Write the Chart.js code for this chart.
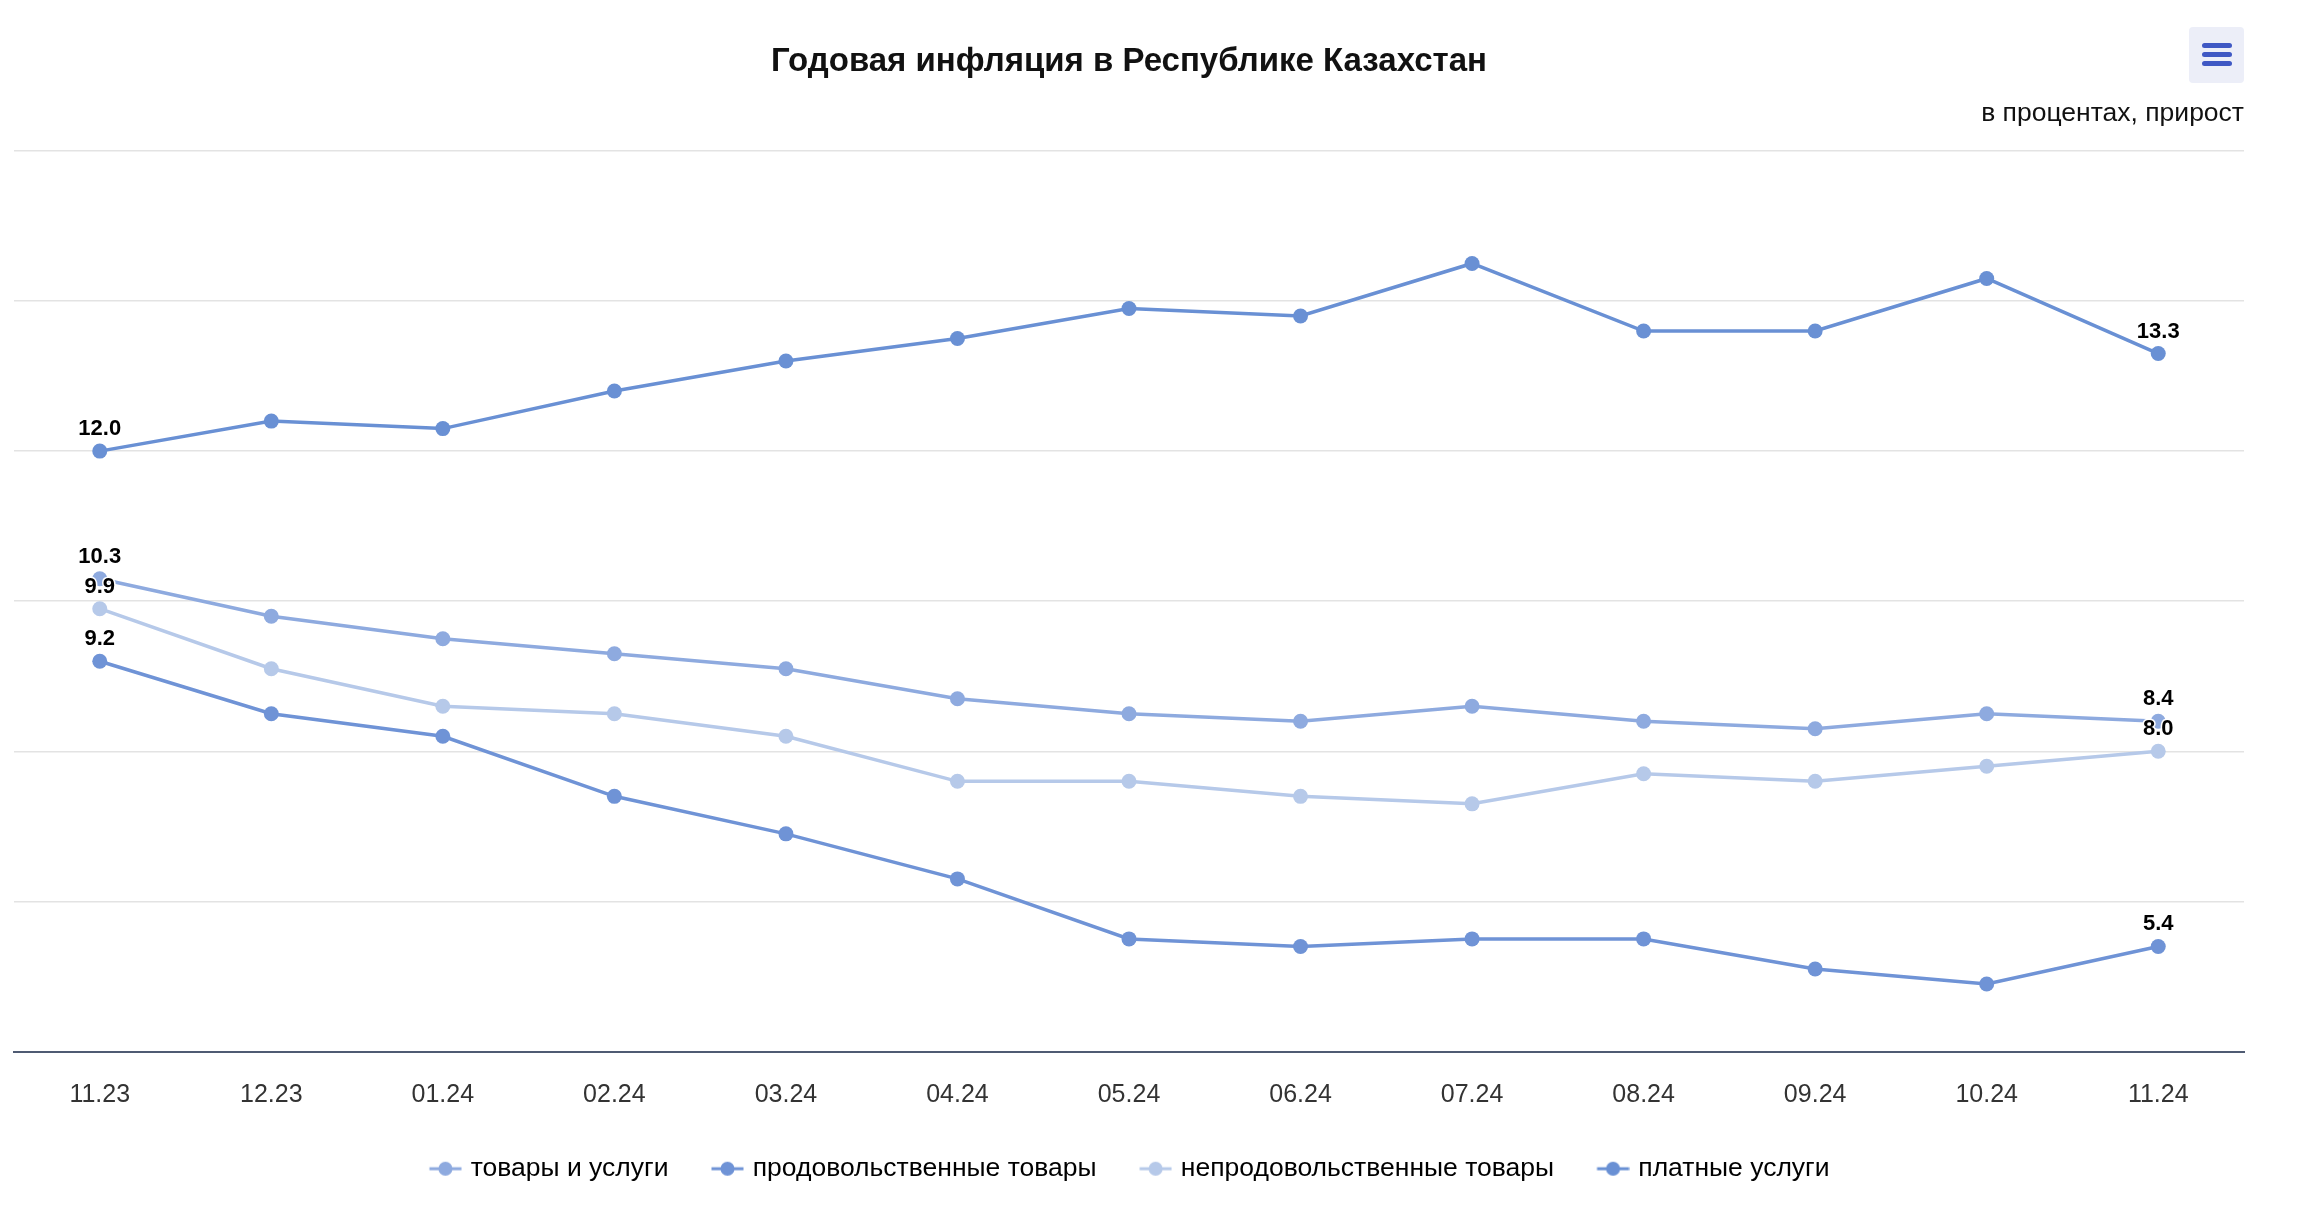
<!DOCTYPE html>
<html>
<head>
<meta charset="utf-8">
<script src="https://cdn.jsdelivr.net/npm/chart.js@4"></script>
<style>
  html,body{margin:0;padding:0;background:#fff;}
  #wrap{position:relative;width:2316px;height:1210px;}
  #menu{position:absolute;left:2189px;top:27px;width:55px;height:56px;background:#eceef8;border-radius:4px;}
  #menu span{position:absolute;left:13px;width:30px;height:5px;border-radius:3px;background:#3f58c4;}
</style>
</head>
<body>
<div id="wrap">
  <canvas id="chart" width="2316" height="1210"></canvas>
  <div id="menu"><span style="top:16px"></span><span style="top:25px"></span><span style="top:34px"></span></div>
</div>
<script>
// data
const months = ['11.23','12.23','01.24','02.24','03.24','04.24','05.24','06.24','07.24','08.24','09.24','10.24','11.24'];
const total    = [10.3, 9.8, 9.5, 9.3, 9.1, 8.7, 8.5, 8.4, 8.6, 8.4, 8.3, 8.5, 8.4];
const food     = [9.2, 8.5, 8.2, 7.4, 6.9, 6.3, 5.5, 5.4, 5.5, 5.5, 5.1, 4.9, 5.4];
const nonfood  = [9.9, 9.1, 8.6, 8.5, 8.2, 7.6, 7.6, 7.4, 7.3, 7.7, 7.6, 7.8, 8.0];
const services = [12.0, 12.4, 12.3, 12.8, 13.2, 13.5, 13.9, 13.8, 14.5, 13.6, 13.6, 14.3, 13.3];
const seriesNames = ['товары и услуги','продовольственные товары','непродовольственные товары','платные услуги'];
const colors = ['#8eaadf','#6f93d6','#b6c9e9','#6990d4'];

const FONT = "'Liberation Sans', Arial, sans-serif";

// legend symbol: line with a dot, blank left part works as gap between items
function legendIcon(color){
  const c = document.createElement('canvas');
  c.width = 64; c.height = 16;
  const g = c.getContext('2d');
  g.strokeStyle = color; g.lineWidth = 3;
  g.beginPath(); g.moveTo(31.5,8); g.lineTo(63.5,8); g.stroke();
  g.fillStyle = color;
  g.beginPath(); g.arc(47.5,8,7,0,Math.PI*2); g.fill();
  return c;
}

// labels on first and last points
const endLabels = {
  id:'endLabels',
  afterUpdate(chart){
    // compensate the blank part of the legend icons so the row stays centred
    if(chart.legend){ chart.legend.left -= 13; chart.legend.right -= 13; }
  },
  afterDatasetsDraw(chart){
    const ctx = chart.ctx;
    ctx.save();
    ctx.font = 'bold 22px ' + FONT;
    ctx.textAlign = 'center';
    ctx.textBaseline = 'middle';
    ctx.lineJoin = 'round';
    chart.data.datasets.forEach((ds,i)=>{
      const meta = chart.getDatasetMeta(i);
      [0, ds.data.length-1].forEach(j=>{
        const p = meta.data[j];
        const txt = ds.data[j].toFixed(1);
        ctx.strokeStyle = '#fff'; ctx.lineWidth = 3;
        ctx.strokeText(txt, p.x, p.y - 22);
        ctx.fillStyle = '#000';
        ctx.fillText(txt, p.x, p.y - 22);
      });
    });
    ctx.restore();
  }
};

const mk = (label, data, color) => ({
  label, data,
  borderColor: color, backgroundColor: color,
  borderWidth: 3.5, pointRadius: 7.5, pointHoverRadius: 7.5,
  pointBorderWidth: 0, tension: 0
});

new Chart(document.getElementById('chart'), {
  type: 'line',
  data: {
    labels: months,
    datasets: [
      mk(seriesNames[0], total, colors[0]),
      mk(seriesNames[1], food, colors[1]),
      mk(seriesNames[2], nonfood, colors[2]),
      mk(seriesNames[3], services, colors[3])
    ]
  },
  options: {
    responsive: false,
    animation: false,
    layout: { padding: { left: 14, right: 72, bottom: 18 } },
    plugins: {
      title: { display: true, text: 'Годовая инфляция в Республике Казахстан', color: '#111',
        font: { family: FONT, size: 33, weight: 'bold', lineHeight: 1.2 }, padding: { top: 42, bottom: 10 } },
      subtitle: { display: true, text: 'в процентах, прирост', align: 'end', color: '#111',
        font: { family: FONT, size: 26.5, lineHeight: 1.2 }, padding: { top: 6.5, bottom: 21 } },
      legend: {
        position: 'bottom',
        labels: {
          usePointStyle: true, pointStyleWidth: 55, padding: 16, color: '#333',
          font: { family: FONT, size: 26.5 },
          generateLabels(chart){
            return chart.data.datasets.map((ds,i)=>({
              text: ds.label, fillStyle: ds.borderColor, strokeStyle: ds.borderColor,
              pointStyle: legendIcon(ds.borderColor), lineWidth: 0, datasetIndex: i, hidden: false
            }));
          }
        }
      },
      tooltip: { enabled: false }
    },
    scales: {
      x: {
        offset: true,
        grid: { display: false, drawTicks: false },
        border: { display: true, color: '#4f5b73', width: 2 },
        ticks: { color: '#333', padding: 29, font: { family: FONT, size: 25 } }
      },
      y: {
        min: 4, max: 16,
        ticks: { display: false, stepSize: 2 },
        grid: { color: '#e3e3e3', lineWidth: 1.5, drawTicks: false },
        border: { display: false }
      }
    }
  },
  plugins: [endLabels]
});
</script>
</body>
</html>
